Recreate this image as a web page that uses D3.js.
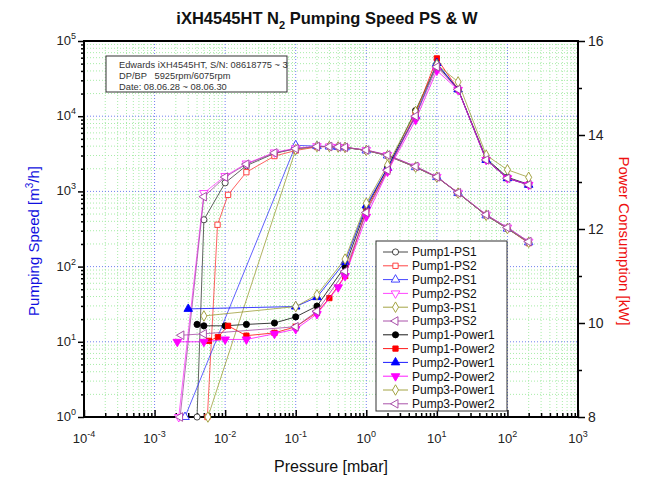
<!DOCTYPE html>
<html><head><meta charset="utf-8">
<script src="https://cdn.jsdelivr.net/npm/d3@7"></script>
<style>body{margin:0;background:#fff;} svg{display:block;font-family:Arial,"Liberation Sans",sans-serif;}</style>
</head><body><svg id="c" width="654" height="486"></svg>
<script>
// ---------- data ----------
const seriesNames = ["Pump1-PS1","Pump1-PS2","Pump2-PS1","Pump2-PS2","Pump3-PS1","Pump3-PS2",
  "Pump1-Power1","Pump1-Power2","Pump2-Power1","Pump2-Power2","Pump3-Power1","Pump3-Power2"];
const seriesAxis = ["L","L","L","L","L","L","R","R","R","R","R","R"];
const seriesColors = ["#333333","#ff3030","#3030ff","#ff30ff","#9a9a30","#a040a0",
  "#000000","#ff0000","#0000ff","#ff00ff","#9a9a30","#a040a0"];
const seriesMarkers = ["circle","square","up","down","diamond","left","circle","square","up","down","diamond","left"];
const seriesFilled = [false,false,false,false,false,false,true,true,true,true,false,false];

// pumping speed [m3/h]
const p1ps1P = [0.004,0.005,0.01,0.02,0.05,0.1,0.2,0.3,0.4,0.5,1,2,5,10,20,50,100,200];
const p1ps1V = [1,420,1300,2200,3200,3700,3950,3950,3900,3850,3500,3000,2100,1550,950,480,320,210];
const p1ps2P = [0.0056,0.0078,0.011,0.02,0.05,0.1,0.2,0.3,0.4,0.5,1,2,5,10,20,50,100,200];
const p1ps2V = [1,360,900,1800,2950,3500,3900,3950,3900,3850,3500,3000,2100,1550,950,480,320,205];
const p2ps1P = [0.0027,0.1,0.2,0.3,0.4,0.5,1,2,5,10,20,50,100,200];
const p2ps1V = [1,4100,4000,3950,3900,3850,3500,3000,2100,1550,950,480,320,210];
const p2ps2P = [0.0022,0.005,0.01,0.02,0.05,0.1,0.2,0.3,0.4,0.5,1,2,5,10,20,50,100,200];
const p2ps2V = [1,950,1600,2350,3300,3750,4000,3950,3900,3850,3550,3050,2150,1560,960,490,330,215];
const p3ps1P = [0.0057,0.1,0.2,0.3,0.4,0.5,1,2,5,10,20,50,100,200];
const p3ps1V = [1,3600,3950,3950,3900,3850,3500,3000,2100,1550,950,480,320,210];
const p3ps2P = [0.0023,0.005,0.01,0.02,0.05,0.1,0.2,0.3,0.4,0.5,1,2,5,10,20,50,100,200];
const p3ps2V = [1,850,1550,2300,3250,3700,3950,3950,3900,3850,3550,3050,2150,1560,960,490,330,215];

// power consumption [kW]
const p1w1P = [0.004,0.005,0.01,0.02,0.05,0.1,0.2,0.5,1,2,5,10,20,50,100,200];
const p1w1V = [9.97,9.94,9.94,9.97,10.0,10.13,10.36,11.2,12.45,13.3,14.52,15.5,14.97,13.5,13.1,12.95];
const p1w2P = [0.0059,0.0079,0.011,0.02,0.05,0.1,0.2,0.3,0.5,1,2,5,10,20,50,100,200];
const p1w2V = [9.62,9.70,9.94,9.73,9.79,9.92,10.22,10.53,11.0,12.4,13.25,14.45,15.63,14.97,13.47,13.08,12.94];
const p2w1P = [0.003,0.1,0.2,0.5,1,2,5,10,20,50,100,200];
const p2w1V = [10.3,10.35,10.55,11.3,12.5,13.3,14.4,15.53,14.97,13.47,13.08,12.94];
const p2w2P = [0.0021,0.005,0.01,0.02,0.05,0.1,0.2,0.4,0.5,1,2,5,10,20,50,100,200];
const p2w2V = [9.6,9.6,9.65,9.65,9.77,9.87,10.19,10.76,11.0,12.26,13.22,14.32,15.37,14.96,13.47,13.08,12.94];
const p3w1P = [0.005,0.1,0.2,0.5,1,2,5,10,20,50,100,200];
const p3w1V = [10.15,10.35,10.6,11.36,12.55,13.36,14.5,15.5,15.13,13.57,13.26,13.1];
const p3w2P = [0.0024,0.005,0.1,0.2,0.5,1,2,5,10,20,50,100,200];
const p3w2V = [9.74,9.77,9.92,10.25,11.1,12.35,13.25,14.4,15.45,14.97,13.47,13.08,12.94];

const seriesP = [p1ps1P,p1ps2P,p2ps1P,p2ps2P,p3ps1P,p3ps2P,p1w1P,p1w2P,p2w1P,p2w2P,p3w1P,p3w2P];
const seriesV = [p1ps1V,p1ps2V,p2ps1V,p2ps2V,p3ps1V,p3ps2V,p1w1V,p1w2V,p2w1V,p2w2V,p3w1V,p3w2V];

const xExps = [-4,-3,-2,-1,0,1,2,3];
const yExps = [0,1,2,3,4,5];
const rightTicks = [8,10,12,14,16];
const rightMinor = [9,11,13,15];
const titleMain = "iXH4545HT N";
const titleSub = "2";
const titleRest = " Pumping Speed PS & W";
const noteLines = ["Edwards iXH4545HT, S/N: 08618775 ~ 3","DP/BP   5925rpm/6075rpm","Date: 08.06.28 ~ 08.06.30"];

// ---------- layout ----------
const L = 84, R = 578, T = 41, B = 417;
const svg = d3.select("#c");
const x = d3.scaleLog().domain([1e-4,1e3]).range([L,R]);
const yL = d3.scaleLog().domain([1,1e5]).range([B,T]);
const yR = d3.scaleLinear().domain([8,16]).range([B,T]);

// minor values
const xMinor = [], yMinor = [];
for (let e=-4;e<3;e++) for (let k=2;k<10;k++) xMinor.push(k*Math.pow(10,e));
for (let e=0;e<5;e++) for (let k=2;k<10;k++) yMinor.push(k*Math.pow(10,e));
const xMajorInner = xExps.slice(1,-1).map(e=>Math.pow(10,e));
const yMajorInner = yExps.slice(1,-1).map(e=>Math.pow(10,e));

// ---------- grid ----------
const g = svg.append("g");
g.selectAll(".gxm").data(xMinor).join("line")
  .attr("x1",d=>x(d)).attr("x2",d=>x(d)).attr("y1",T).attr("y2",B)
  .attr("stroke","#a8eca8").attr("stroke-width",1).attr("stroke-dasharray","1,2");
g.selectAll(".gym").data(yMinor).join("line")
  .attr("x1",L).attr("x2",R).attr("y1",d=>yL(d)).attr("y2",d=>yL(d))
  .attr("stroke","#a8eca8").attr("stroke-width",1).attr("stroke-dasharray","1,2");
g.selectAll(".gxM").data(xMajorInner).join("line")
  .attr("x1",d=>x(d)).attr("x2",d=>x(d)).attr("y1",T).attr("y2",B)
  .attr("stroke","#7080ee").attr("stroke-width",1).attr("stroke-dasharray","1,2");
g.selectAll(".gyM").data(yMajorInner).join("line")
  .attr("x1",L).attr("x2",R).attr("y1",d=>yL(d)).attr("y2",d=>yL(d))
  .attr("stroke","#7080ee").attr("stroke-width",1).attr("stroke-dasharray","1,2");

// ---------- axes ----------
const axL = svg.append("g").attr("transform",`translate(${L},0)`)
  .call(d3.axisLeft(yL).tickValues(yMinor).tickSize(3).tickFormat(""));
const axLM = svg.append("g").attr("transform",`translate(${L},0)`)
  .call(d3.axisLeft(yL).tickValues(yExps.map(e=>Math.pow(10,e))).tickSize(6).tickFormat(""));
const axB = svg.append("g").attr("transform",`translate(0,${B})`)
  .call(d3.axisBottom(x).tickValues(xMinor).tickSize(-4).tickFormat(""));
const axBM = svg.append("g").attr("transform",`translate(0,${B})`)
  .call(d3.axisBottom(x).tickValues(xExps.map(e=>Math.pow(10,e))).tickSize(-7).tickFormat(""));
const axR = svg.append("g").attr("transform",`translate(${R},0)`)
  .call(d3.axisRight(yR).tickValues(rightMinor).tickSize(4).tickFormat(""));
const axRM = svg.append("g").attr("transform",`translate(${R},0)`)
  .call(d3.axisRight(yR).tickValues(rightTicks).tickSize(7).tickFormat(""));
[axL,axLM,axB,axBM,axR,axRM].forEach(a=>{
  a.select(".domain").remove();
  a.selectAll("line").attr("stroke","#000").attr("stroke-width",1.5);
});
// frame
svg.append("rect").attr("x",L).attr("y",T).attr("width",R-L).attr("height",B-T)
  .attr("fill","none").attr("stroke","#000").attr("stroke-width",2);

// tick labels
const tf = "#222";
xExps.forEach(e=>{
  const t = svg.append("text").attr("x",x(Math.pow(10,e))).attr("y",443)
    .attr("text-anchor","middle").attr("font-size",13).attr("fill",tf);
  t.append("tspan").text("10");
  t.append("tspan").attr("dy",-6).attr("font-size",9).text(e);
});
yExps.forEach(e=>{
  const t = svg.append("text").attr("x",L-8).attr("y",yL(Math.pow(10,e))+4)
    .attr("text-anchor","end").attr("font-size",13).attr("fill",tf);
  t.append("tspan").text("10");
  t.append("tspan").attr("dy",-6).attr("font-size",9).text(e);
});
rightTicks.forEach(v=>{
  svg.append("text").attr("x",R+10).attr("y",yR(v)+5).attr("font-size",14).attr("fill",tf).text(v);
});

// axis titles
const tt = svg.append("text").attr("x",327).attr("y",24).attr("text-anchor","middle")
  .attr("font-size",16.5).attr("font-weight","bold").attr("fill","#111");
tt.append("tspan").text(titleMain);
tt.append("tspan").attr("dy",5).attr("font-size",11).text(titleSub);
tt.append("tspan").attr("dy",-5).text(titleRest);

svg.append("text").attr("x",(L+R)/2).attr("y",472).attr("text-anchor","middle")
  .attr("font-size",16).attr("fill","#111").text("Pressure [mbar]");

const yl = svg.append("text").attr("transform","translate(39,241) rotate(-90)")
  .attr("text-anchor","middle").attr("font-size",15).attr("fill","#1010e0");
yl.append("tspan").text("Pumping Speed [m");
yl.append("tspan").attr("dy",-6).attr("font-size",10).text("3");
yl.append("tspan").attr("dy",6).text("/h]");

svg.append("text").attr("transform","translate(619,241) rotate(90)")
  .attr("text-anchor","middle").attr("font-size",15).attr("fill","#ee1010").text("Power Consumption [kW]");

// ---------- series ----------
function symPath(m){
  const map = {circle:d3.symbolCircle,square:d3.symbolSquare,up:d3.symbolTriangle,down:d3.symbolTriangle,
    diamond:d3.symbolDiamond,left:d3.symbolTriangle};
  const size = m==="square"?28:(m==="circle"?30:32);
  return d3.symbol().type(map[m]).size(size)();
}
function symRot(m){ return m==="down"?180:(m==="left"?-90:0); }

const plot = svg.append("g");
seriesNames.forEach((name,i)=>{
  const yS = seriesAxis[i]==="L"?yL:yR;
  const pts = seriesP[i].map((p,j)=>[p,seriesV[i][j]]);
  const line = d3.line().x(d=>x(d[0])).y(d=>yS(d[1]));
  plot.append("path").attr("d",line(pts)).attr("fill","none")
    .attr("stroke",seriesColors[i]).attr("stroke-width",0.9).attr("stroke-opacity",0.85);
  plot.selectAll(null).data(pts).join("path")
    .attr("d",symPath(seriesMarkers[i]))
    .attr("transform",d=>`translate(${x(d[0])},${yS(d[1])}) rotate(${symRot(seriesMarkers[i])})`)
    .attr("fill",seriesFilled[i]?seriesColors[i]:"#fff")
    .attr("stroke",seriesColors[i]).attr("stroke-width",0.9);
});

// ---------- annotation box ----------
svg.append("rect").attr("x",106).attr("y",56).attr("width",181).attr("height",36)
  .attr("fill","#fff").attr("stroke","#333").attr("stroke-width",1);
noteLines.forEach((s,i)=>{
  svg.append("text").attr("x",119).attr("y",68+i*10.8).attr("font-size",9.3)
    .attr("fill","#333").style("white-space","pre").text(s);
});

// ---------- legend ----------
const lg = svg.append("g");
lg.append("rect").attr("x",376).attr("y",241).attr("width",131).attr("height",170)
  .attr("fill","#fff").attr("stroke","#333").attr("stroke-width",1);
seriesNames.forEach((name,i)=>{
  const yy = 252 + i*13.8;
  lg.append("line").attr("x1",383).attr("x2",408).attr("y1",yy).attr("y2",yy)
    .attr("stroke",seriesColors[i]).attr("stroke-width",0.9);
  lg.append("path").attr("d",symPath(seriesMarkers[i]))
    .attr("transform",`translate(395.5,${yy}) rotate(${symRot(seriesMarkers[i])})`)
    .attr("fill",seriesFilled[i]?seriesColors[i]:"#fff").attr("stroke",seriesColors[i]).attr("stroke-width",0.9);
  lg.append("text").attr("x",412).attr("y",yy+4.3).attr("font-size",12).attr("fill","#111").text(name);
});
</script></body></html>
